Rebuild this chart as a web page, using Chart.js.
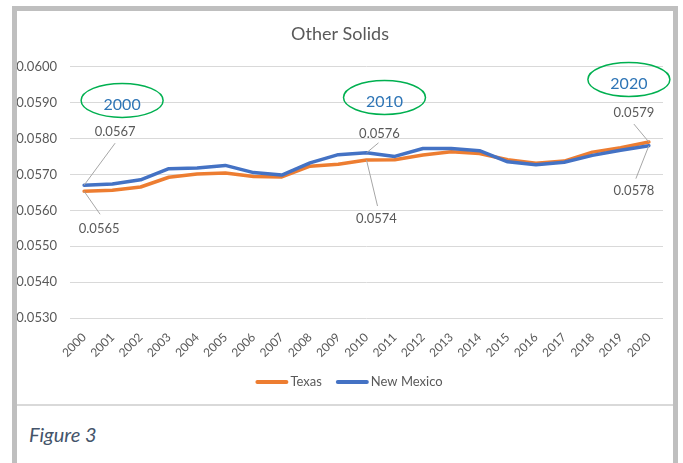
<!DOCTYPE html>
<html>
<head>
<meta charset="utf-8">
<script src="https://cdn.jsdelivr.net/npm/chart.js@4.4.0/dist/chart.umd.min.js"></script>
<style>
  html, body { margin: 0; padding: 0; background: #fff; }
  body { width: 683px; height: 463px; overflow: hidden; position: relative; font-family: Lato, sans-serif; }
  #frame {
    position: absolute; left: 12px; top: 6px; width: 656px; height: 470px;
    border: 5px solid #bfbfbf; border-bottom: none; background: #fff;
  }
  #chartBox { position: relative; width: 656px; height: 393px; }
  #divider { height: 2px; background: #d9d9d9; }
  #caption {
    position: absolute; left: 12px; top: 411px;
    font: italic 20px Lato, sans-serif; color: #44546a;
  }
</style>
</head>
<body>
<div id="frame">
  <div id="chartBox"><canvas id="chart"></canvas></div>
  <div id="divider"></div>
  <div id="caption">Figure 3</div>
</div>
<script>
// Data
const years = ['2000', '2001', '2002', '2003', '2004', '2005', '2006', '2007', '2008', '2009', '2010',
               '2011', '2012', '2013', '2014', '2015', '2016', '2017', '2018', '2019', '2020'];
const texas = [0.05653, 0.05656, 0.05665, 0.05692, 0.05701, 0.05704, 0.05694, 0.05693, 0.05723, 0.05728, 0.05740,
               0.05741, 0.05754, 0.05763, 0.05758, 0.05741, 0.05731, 0.05737, 0.05762, 0.05774, 0.05790];
const newMexico = [0.05670, 0.05673, 0.05685, 0.05716, 0.05718, 0.05725, 0.05705, 0.05698, 0.05732, 0.05755, 0.05760,
                   0.05750, 0.05772, 0.05772, 0.05766, 0.05735, 0.05727, 0.05734, 0.05753, 0.05767, 0.05780];
const yTicks = [0.0530, 0.0540, 0.0550, 0.0560, 0.0570, 0.0580, 0.0590, 0.0600];
const highlightYears = ['2000', '2010', '2020'];

const TEXT_GRAY = '#595959';

// Callouts: dataset index, category index, label offset and leader end offset (pixels)
const callouts = [
    { ds: 1, idx: 0,  dx: 31,  dy: -53, lx: 31,  ly: -42 },
    { ds: 0, idx: 0,  dx: 15,  dy: 38,  lx: 16,  ly: 23 },
    { ds: 1, idx: 10, dx: 13,  dy: -19, lx: 12,  ly: -10 },
    { ds: 0, idx: 10, dx: 10,  dy: 59,  lx: 11,  ly: 46 },
    { ds: 0, idx: 20, dx: -15, dy: -29, lx: -15, ly: -18 },
    { ds: 1, idx: 20, dx: -15, dy: 45,  lx: -13, ly: 33 }
];
// Year bubbles: x offset from category in pixels, y as axis value
const bubbles = [
    { dx: 38,  yv: 0.05906 },
    { dx: 18,  yv: 0.05914 },
    { dx: -20, yv: 0.05964 }
];

const annotationPlugin = {
    id: 'callouts',
    afterDatasetsDraw(chart) {
        const ctx = chart.ctx;
        const xs = chart.scales.x;
        const ys = chart.scales.y;
        ctx.save();

        // leader lines + value labels
        callouts.forEach(c => {
            const v = chart.data.datasets[c.ds].data[c.idx];
            const px = xs.getPixelForValue(c.idx);
            const py = ys.getPixelForValue(v);
            ctx.strokeStyle = '#a6a6a6';
            ctx.lineWidth = 1;
            ctx.beginPath();
            ctx.moveTo(px, py);
            ctx.lineTo(px + c.lx, py + c.ly);
            ctx.stroke();
            ctx.fillStyle = TEXT_GRAY;
            ctx.font = '13px Lato, sans-serif';
            ctx.textAlign = 'center';
            ctx.textBaseline = 'middle';
            ctx.fillText(v.toFixed(4), px + c.dx, py + c.dy);
        });

        // green ellipses with year
        highlightYears.forEach((yr, i) => {
            const b = bubbles[i];
            const cx = xs.getPixelForValue(years.indexOf(yr)) + b.dx;
            const cy = ys.getPixelForValue(b.yv);
            ctx.strokeStyle = '#00b050';
            ctx.lineWidth = 1.5;
            ctx.beginPath();
            ctx.ellipse(cx, cy, 41, 17, 0, 0, Math.PI * 2);
            ctx.stroke();
            ctx.fillStyle = '#2e75b6';
            ctx.font = '16px Lato, sans-serif';
            ctx.textAlign = 'center';
            ctx.textBaseline = 'middle';
            ctx.fillText(yr, cx, cy + 4);
        });
        ctx.restore();
    }
};

// Excel-style legend: short thick line then the name, centred under the plot
const lineLegend = {
    id: 'lineLegend',
    afterDraw(chart) {
        const ctx = chart.ctx;
        const sets = chart.data.datasets;
        const lineLen = 33, gap = 2, itemGap = 14;
        ctx.save();
        ctx.font = '13px Lato, sans-serif';
        const widths = sets.map(ds => lineLen + gap + ctx.measureText(ds.label).width);
        const total = widths.reduce((a, b) => a + b, 0) + itemGap * (sets.length - 1);
        let x = chart.width / 2 + 4 - total / 2;
        const y = 371;
        sets.forEach((ds, i) => {
            ctx.strokeStyle = ds.borderColor;
            ctx.lineWidth = 4;
            ctx.lineCap = 'round';
            ctx.beginPath();
            ctx.moveTo(x + 2, y);
            ctx.lineTo(x + lineLen - 2, y);
            ctx.stroke();
            ctx.fillStyle = TEXT_GRAY;
            ctx.textAlign = 'left';
            ctx.textBaseline = 'middle';
            ctx.fillText(ds.label, x + lineLen + gap, y);
            x += widths[i] + itemGap;
        });
        ctx.restore();
    }
};

const ctx = document.getElementById('chart').getContext('2d');
new Chart(ctx, {
    type: 'line',
    data: {
        labels: years,
        datasets: [{
            label: 'Texas',
            data: texas,
            borderColor: '#ed7d31',
            backgroundColor: '#ed7d31',
            borderWidth: 3.5,
            pointRadius: 0,
            tension: 0,
            borderJoinStyle: 'round',
            borderCapStyle: 'round',
            order: 1
        }, {
            label: 'New Mexico',
            data: newMexico,
            borderColor: '#4472c4',
            backgroundColor: '#4472c4',
            borderWidth: 3.5,
            pointRadius: 0,
            tension: 0,
            borderJoinStyle: 'round',
            borderCapStyle: 'round',
            order: 0
        }]
    },
    options: {
        responsive: true,
        maintainAspectRatio: false,
        animation: false,
        layout: {
            padding: { left: 0, right: 10, top: 0, bottom: 40 }
        },
        plugins: {
            title: {
                display: true,
                text: 'Other Solids',
                color: TEXT_GRAY,
                font: { family: 'Lato, sans-serif', size: 18, weight: 'normal' },
                padding: { top: 12, bottom: 22 }
            },
            legend: { display: false },
            tooltip: { enabled: false }
        },
        scales: {
            x: {
                offset: true,
                grid: { display: false },
                border: { display: false },
                ticks: {
                    color: TEXT_GRAY,
                    font: { family: 'Lato, sans-serif', size: 12 },
                    maxRotation: 45,
                    minRotation: 45,
                    autoSkip: false,
                    padding: 4
                }
            },
            y: {
                min: yTicks[0],
                max: yTicks[yTicks.length - 1],
                afterBuildTicks(scale) {
                    scale.ticks = yTicks.map(v => ({ value: v }));
                },
                afterFit(scale) {
                    scale.width = 53;
                },
                grid: { color: '#d9d9d9', lineWidth: 1, drawTicks: false },
                border: { display: false },
                ticks: {
                    color: TEXT_GRAY,
                    font: { family: 'Lato, sans-serif', size: 13 },
                    padding: 13,
                    callback: v => v.toFixed(4)
                }
            }
        }
    },
    plugins: [annotationPlugin, lineLegend]
});
</script>
</body>
</html>
